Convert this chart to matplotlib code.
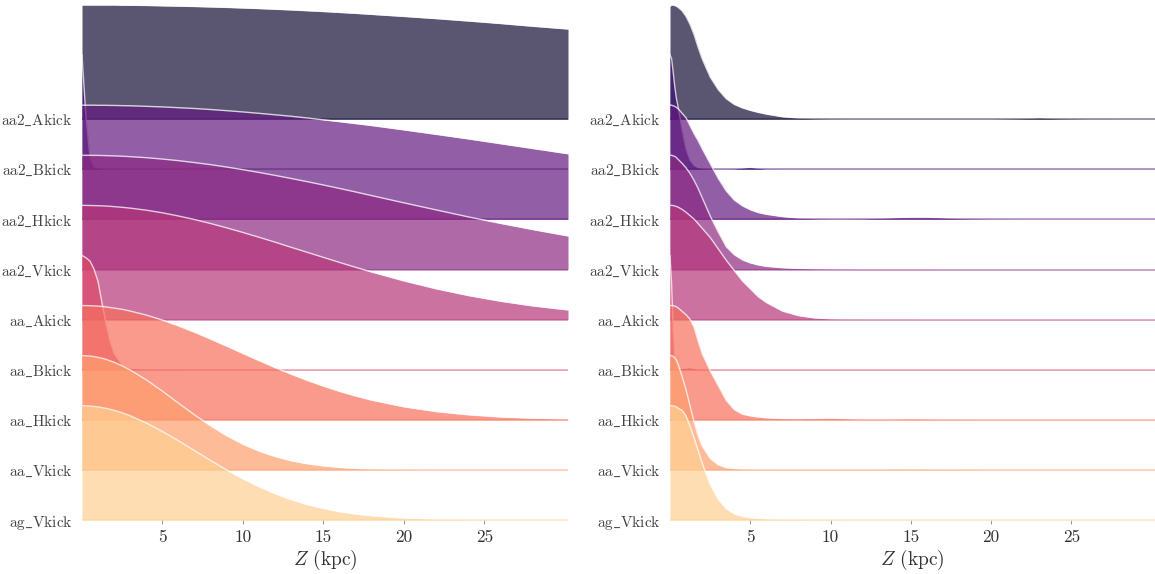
import numpy as np
import matplotlib
matplotlib.use('Agg')
import matplotlib.pyplot as plt

plt.rcParams['font.family'] = 'cmr10'
plt.rcParams['mathtext.fontset'] = 'cm'
plt.rcParams['axes.formatter.use_mathtext'] = True

###############################################################################
# data (densities normalised to each row's peak)
###############################################################################

models = ['aa2_Akick', 'aa2_Bkick', 'aa2_Hkick', 'aa2_Vkick',
	'aa_Akick', 'aa_Bkick', 'aa_Hkick', 'aa_Vkick', 'ag_Vkick']

zLeft = [0, 0.25, 0.5, 0.75, 1, 1.25, 1.5, 1.75, 2, 2.5, 3, 4, 5, 6, 7, 8, 9,
	10, 11, 12, 13, 14, 15, 16, 17, 18, 20, 22, 24, 26, 28, 30.2]

left_aa2_Akick = [1.0, 1.0, 1.0, 1.0, 1.0, 1.0, 1.0, 1.0, 1.0, 0.998, 0.998,
	0.996, 0.993, 0.99, 0.987, 0.983, 0.979, 0.974, 0.969, 0.963, 0.957, 0.95,
	0.943, 0.935, 0.927, 0.918, 0.9, 0.881, 0.86, 0.838, 0.814, 0.79]
left_aa2_Bkick = [1.0, 0.45, 0.1, 0.025, 0.012, 0.008, 0.005, 0.004, 0.004,
	0.003, 0.003, 0.003, 0.003, 0.002, 0.002, 0.002, 0.002, 0.002, 0.002, 0.002,
	0.002, 0.002, 0.002, 0.002, 0.002, 0.002, 0.002, 0.002, 0.002, 0.002, 0.002,
	0.002]
left_aa2_Hkick = [1.0, 1.0, 1.0, 1.0, 0.999, 0.999, 0.999, 0.998, 0.998, 0.996,
	0.995, 0.99, 0.985, 0.978, 0.971, 0.962, 0.952, 0.941, 0.929, 0.916, 0.903,
	0.888, 0.872, 0.856, 0.839, 0.822, 0.784, 0.745, 0.705, 0.663, 0.621, 0.575]
left_aa2_Vkick = [1.0, 1.0, 1.0, 0.999, 0.999, 0.998, 0.997, 0.996, 0.995,
	0.992, 0.988, 0.979, 0.967, 0.953, 0.936, 0.918, 0.897, 0.874, 0.85, 0.824,
	0.797, 0.769, 0.74, 0.71, 0.679, 0.647, 0.584, 0.522, 0.461, 0.404, 0.35,
	0.294]
left_aa_Akick = [1.0, 1.0, 0.999, 0.998, 0.997, 0.996, 0.994, 0.992, 0.989,
	0.983, 0.976, 0.958, 0.935, 0.907, 0.876, 0.841, 0.803, 0.763, 0.721, 0.678,
	0.633, 0.589, 0.545, 0.501, 0.458, 0.417, 0.339, 0.27, 0.211, 0.161, 0.12,
	0.085]
left_aa_Bkick = [1.0, 0.98, 0.95, 0.88, 0.77, 0.58, 0.4, 0.25, 0.14, 0.04,
	0.012, 0.005, 0.003, 0.003, 0.002, 0.002, 0.002, 0.002, 0.002, 0.002, 0.002,
	0.002, 0.002, 0.002, 0.002, 0.002, 0.002, 0.002, 0.002, 0.002, 0.002, 0.002]
left_aa_Hkick = [1.0, 1.0, 0.999, 0.997, 0.995, 0.992, 0.988, 0.983, 0.978,
	0.967, 0.952, 0.917, 0.873, 0.822, 0.766, 0.706, 0.644, 0.581, 0.518, 0.457,
	0.399, 0.345, 0.295, 0.249, 0.208, 0.172, 0.114, 0.072, 0.044, 0.025, 0.014,
	0.007]
left_aa_Vkick = [1.0, 0.999, 0.996, 0.992, 0.985, 0.977, 0.967, 0.955, 0.942,
	0.911, 0.874, 0.788, 0.689, 0.584, 0.481, 0.385, 0.298, 0.225, 0.164, 0.117,
	0.08, 0.054, 0.035, 0.022, 0.013, 0.008, 0.003, 0.001, 0.001, 0.001, 0.001,
	0.001]
left_ag_Vkick = [1.0, 0.999, 0.997, 0.994, 0.99, 0.984, 0.977, 0.969, 0.96,
	0.938, 0.912, 0.849, 0.775, 0.693, 0.607, 0.521, 0.437, 0.36, 0.291, 0.23,
	0.178, 0.135, 0.101, 0.073, 0.052, 0.037, 0.017, 0.007, 0.003, 0.001, 0.001,
	0.001]

zRight = [0, 0.1, 0.2, 0.3, 0.4, 0.5, 0.75, 1, 1.25, 1.5, 1.75, 2, 2.5, 3, 3.5,
	4, 4.5, 5, 5.5, 6, 7, 8, 9, 10, 11, 12, 13, 14, 15, 16, 17, 18, 20, 22, 23,
	24, 26, 28, 30.2]

right_aa2_Akick = [0.99, 1.0, 1.0, 0.995, 0.99, 0.98, 0.95, 0.9, 0.83, 0.74,
	0.63, 0.53, 0.37, 0.26, 0.18, 0.13, 0.1, 0.078, 0.06, 0.045, 0.022, 0.01,
	0.005, 0.003, 0.002, 0.002, 0.002, 0.002, 0.002, 0.002, 0.002, 0.002, 0.002,
	0.006, 0.012, 0.006, 0.002, 0.001, 0.001]
right_aa2_Bkick = [1.0, 0.97, 0.85, 0.72, 0.62, 0.55, 0.35, 0.18, 0.08, 0.035,
	0.015, 0.008, 0.004, 0.003, 0.003, 0.004, 0.012, 0.018, 0.01, 0.003, 0.002,
	0.002, 0.002, 0.002, 0.002, 0.002, 0.002, 0.002, 0.002, 0.002, 0.002, 0.002,
	0.002, 0.002, 0.002, 0.002, 0.002, 0.002, 0.002]
right_aa2_Hkick = [1.0, 1.0, 0.995, 0.99, 0.98, 0.97, 0.93, 0.89, 0.82, 0.75,
	0.69, 0.62, 0.49, 0.36, 0.25, 0.17, 0.12, 0.085, 0.06, 0.045, 0.025, 0.012,
	0.007, 0.005, 0.005, 0.006, 0.01, 0.016, 0.02, 0.02, 0.015, 0.008, 0.004,
	0.002, 0.002, 0.002, 0.002, 0.002, 0.002]
right_aa2_Vkick = [1.0, 1.0, 0.995, 0.99, 0.98, 0.965, 0.93, 0.89, 0.84, 0.78,
	0.71, 0.63, 0.47, 0.33, 0.2, 0.13, 0.085, 0.058, 0.04, 0.028, 0.016, 0.01,
	0.007, 0.005, 0.004, 0.003, 0.003, 0.003, 0.003, 0.003, 0.002, 0.002, 0.002,
	0.002, 0.002, 0.002, 0.002, 0.002, 0.002]
right_aa_Akick = [1.0, 1.0, 0.998, 0.995, 0.99, 0.985, 0.965, 0.94, 0.91, 0.88,
	0.84, 0.8, 0.72, 0.62, 0.52, 0.43, 0.34, 0.27, 0.2, 0.15, 0.075, 0.035,
	0.015, 0.007, 0.004, 0.003, 0.003, 0.003, 0.003, 0.002, 0.002, 0.002, 0.002,
	0.002, 0.002, 0.002, 0.002, 0.002, 0.002]
right_aa_Bkick = [1.0, 0.75, 0.35, 0.1, 0.03, 0.015, 0.01, 0.015, 0.02, 0.012,
	0.006, 0.004, 0.003, 0.003, 0.003, 0.003, 0.003, 0.003, 0.002, 0.002, 0.002,
	0.002, 0.002, 0.002, 0.002, 0.002, 0.002, 0.002, 0.002, 0.002, 0.002, 0.002,
	0.002, 0.002, 0.002, 0.002, 0.002, 0.002, 0.002]
right_aa_Hkick = [1.0, 1.0, 0.998, 0.995, 0.99, 0.98, 0.95, 0.92, 0.88, 0.81,
	0.69, 0.58, 0.43, 0.3, 0.17, 0.09, 0.05, 0.035, 0.025, 0.018, 0.012, 0.01,
	0.012, 0.015, 0.01, 0.006, 0.005, 0.007, 0.009, 0.007, 0.004, 0.003, 0.002,
	0.002, 0.002, 0.002, 0.002, 0.002, 0.002]
right_aa_Vkick = [1.0, 1.0, 0.995, 0.98, 0.96, 0.93, 0.82, 0.7, 0.56, 0.42,
	0.3, 0.21, 0.1, 0.045, 0.02, 0.012, 0.008, 0.006, 0.005, 0.005, 0.004, 0.004,
	0.004, 0.004, 0.004, 0.004, 0.005, 0.007, 0.008, 0.006, 0.004, 0.003, 0.002,
	0.002, 0.002, 0.002, 0.002, 0.002, 0.002]
right_ag_Vkick = [1.0, 1.0, 0.998, 0.995, 0.99, 0.98, 0.96, 0.91, 0.82, 0.72,
	0.61, 0.5, 0.31, 0.18, 0.1, 0.055, 0.032, 0.02, 0.014, 0.01, 0.006, 0.004,
	0.003, 0.003, 0.002, 0.002, 0.002, 0.002, 0.002, 0.002, 0.002, 0.002, 0.002,
	0.002, 0.002, 0.002, 0.002, 0.002, 0.002]

leftRows = [left_aa2_Akick, left_aa2_Bkick, left_aa2_Hkick, left_aa2_Vkick,
	left_aa_Akick, left_aa_Bkick, left_aa_Hkick, left_aa_Vkick, left_ag_Vkick]
rightRows = [right_aa2_Akick, right_aa2_Bkick, right_aa2_Hkick, right_aa2_Vkick,
	right_aa_Akick, right_aa_Bkick, right_aa_Hkick, right_aa_Vkick, right_ag_Vkick]

xTicks = [5, 10, 15, 20, 25]

###############################################################################
# plotting
###############################################################################

nRows = len(models)
hScale = 2.28   # peak height in units of row spacing
colors = [plt.cm.magma(v) for v in np.linspace(0, 1, nRows + 2)[1:-1]]

fig = plt.figure(figsize=(11.55, 5.74), dpi=100)
axL = fig.add_axes([82/1155, 54/574, 486/1155, 515/574])
axR = fig.add_axes([670/1155, 54/574, 485/1155, 515/574])

def ridge(ax, z, rows):
	z = np.array(z)
	for i, dens in enumerate(rows):
		base = nRows - 1 - i
		top = base + hScale*np.array(dens)
		ax.fill_between(z, base, top, color=colors[i], alpha=0.7, lw=0,
			zorder=3*i, clip_on=False)
		ax.plot(z, top, color='w', lw=1.0, alpha=0.75, zorder=3*i+1,
			clip_on=False)
		ax.plot([z[0], z[-1]], [base, base], color=colors[i], lw=1.3,
			alpha=0.45, zorder=3*i+2, clip_on=False, solid_capstyle='butt')
	ax.set_xlim(0, 30.2)
	ax.set_ylim(0, nRows - 1 + hScale)
	ax.set_xticks(xTicks)
	ax.set_xticklabels([str(t) for t in xTicks], fontsize=12.5, color='#333333')
	ax.tick_params(axis='x', length=3, width=0.6, color='#888888', pad=4)
	for s in ax.spines.values():
		s.set_visible(False)
	ax.set_xlabel(r'$Z$ (kpc)', fontsize=14, labelpad=2, color='#333333')

ridge(axL, zLeft, leftRows)
ridge(axR, zRight, rightRows)

yLabels = [r'$\mathrm{' + m.replace('_', r'\_') + '}$' for m in models]
for ax in [axL, axR]:
	ax.set_yticks([nRows - 1 - i for i in range(nRows)])
	ax.set_yticklabels(yLabels, fontsize=11, color='#444444')
	ax.tick_params(axis='y', length=0, pad=7)

fig.savefig('out.png', dpi=100)
